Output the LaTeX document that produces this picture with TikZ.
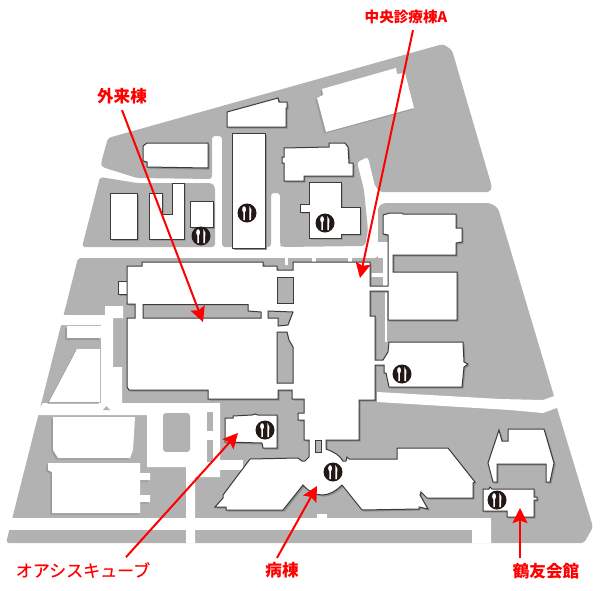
\documentclass[tikz,border=0pt]{standalone}
\usepackage{fontspec}
\usetikzlibrary{arrows.meta}
\newfontfamily\cjkfont{Noto Sans CJK JP}
\newfontfamily\cjkmid[FakeBold=0.35]{Noto Sans CJK JP}
\definecolor{groundc}{HTML}{B2B2B2}
\definecolor{shadeO}{HTML}{8E8E8E}
\definecolor{shadeW}{HTML}{9A9A9A}
\definecolor{inkc}{HTML}{3E3A39}
\definecolor{iconc}{HTML}{231815}
\definecolor{redc}{HTML}{FF0000}
\tikzset{
  ground/.style={fill=groundc,rounded corners=3pt},
  road/.style={fill=white},
  bldg/.style={fill=white,draw=inkc,line width=1pt},
  hole/.style={fill=groundc,draw=inkc,line width=1pt},
  lbl/.style={text=redc,font=\cjkfont\bfseries\fontsize{16.6}{17}\selectfont,inner sep=0pt},
  lblA/.style={text=redc,font=\cjkfont\bfseries\fontsize{14.6}{16}\selectfont,inner sep=0pt},
  lblK/.style={text=redc,font=\cjkmid\fontsize{17}{18}\selectfont,inner sep=0pt},
  pointer/.style={draw=redc,line width=2pt,-{Stealth[length=15pt,width=15pt,inset=2.5pt]}}
}
\newcommand\obld[1]{\fill[shadeO,shift={(1.6,1.6)}] #1 -- cycle; \path[bldg] #1 -- cycle;}
\newcommand\wbld[1]{\fill[shadeW,shift={(-1.6,1.6)}] #1 -- cycle; \fill[white] #1 -- cycle;}
\newcommand\mealicon[2]{\begin{scope}[shift={(#1,#2)}]
  \fill[iconc] (0,0) circle (9.5);
  \fill[white] (-2.9,-3.6) ellipse [x radius=1.9,y radius=3.2];
  \fill[white] (-3.6,-2) -- (-2.2,-2) -- (-2.1,7.2) -- (-3.7,7.2) -- cycle;
  \fill[white] (2.4,-7) .. controls (4.6,-5) and (5,-1.5) .. (4.2,0.5) -- (3.9,7.2) -- (2.4,7.2) -- cycle;
\end{scope}}
\begin{document}
\begin{tikzpicture}[x=1pt,y=-1pt]
\useasboundingbox (0,0) rectangle (600,590);
% ---- ground
\path[ground] (108,138) -- (443,44) -- (452,50) -- (492,187) -- (490,192) -- (380,192) -- (375,186) -- (368,157) -- (357,162) -- (364,190) -- (368,230) -- (365,246) -- (282,247) -- (280,245) -- (280,193) -- (271,193) -- (271,247) -- (222,247) -- (222,136) -- (212,136) -- (212,179) -- (137,178) -- (102,167) -- (101,163) -- cycle;
\path[ground] (100,177) -- (137,183) -- (212,183) -- (215,187) -- (215,247) -- (82,247) -- cycle;
\path[ground] (78,258) -- (378,258) -- (378,207) -- (383,203) -- (490,203) -- (498,208) -- (554,396) -- (557,408) -- (593,527) -- (584,543) -- (6,543) -- cycle;
% ---- roads
\path[road] (377,392) -- (500,399) -- (543,400) -- (560,394) -- (562,406) -- (543,413) -- (510,410) -- (377,402) -- cycle;
\fill[road] (378,242) rectangle (388,258);
\fill[road] (383,258) rectangle (388,290);
\fill[road] (370,273) rectangle (388,277);
\fill[road] (385,292) rectangle (387,342);
\fill[road] (285,258) rectangle (288,265);
\fill[road] (312,258) rectangle (316,262);
\fill[road] (348,258) rectangle (352,262);
\path[road] (60,315) -- (105,315) -- (105,306) -- (123,306) -- (123,318) -- (113,318) -- (113,367) -- (122,367) -- (122,403) -- (220,403) -- (220,477) -- (195,477) -- (195,543) -- (186,543) -- (186,467) -- (155,467) -- (147,467) -- (147,415) -- (35,415) -- (43,403) -- (101,403) -- (101,325) -- (60,325) -- cycle;
\fill[road] (220,460) rectangle (243,470);
\fill[road] (0,518) rectangle (491,530);
\fill[road] (317,514) rectangle (327,530);
\path[road] (472,518) -- (487,518) -- (491,523) -- (491,543) -- (472,543) -- cycle;
\fill[groundc,rounded corners=3pt] (163,413) rectangle (190,452);
\fill[road] (155,452) rectangle (186,467);
\fill[groundc] (207,412) rectangle (213,431);
\fill[groundc] (207,440) rectangle (213,462);
\fill[groundc] (103,410) -- (110,410) -- (106.5,406) -- cycle;
% ---- plain white blocks
\wbld{(67,326) -- (101,326) -- (101,338) -- (67,338)}
\wbld{(77,349) -- (100,349) -- (100,402) -- (49,402)}
\wbld{(53,417) -- (135,417) -- (133,450) -- (130,458) -- (58,458) -- (53,450)}
\wbld{(48,463) -- (140,463) -- (140,473) -- (150,473) -- (150,480) -- (140,480) -- (140,495) -- (150,495) -- (150,502) -- (140,502) -- (140,513) -- (52,513) -- (52,472) -- (48,470)}
\wbld{(322,89) -- (396,68) -- (397,74) -- (405,73) -- (414,108) -- (326,132) -- (317,98) -- (323,95)}
% ---- outlined buildings, north
\obld{(227,112) -- (278,98) -- (279,102) -- (287,102) -- (287,108) -- (286,108) -- (286,127) -- (227,127)}
\obld{(143,146) -- (147,143) -- (208,143) -- (208,168) -- (147,167) -- (147,162) -- (143,161)}
\obld{(232,133) -- (265,133) -- (265,248) -- (232,248)}
\obld{(110,193) -- (137,193) -- (137,239) -- (110,239)}
\obld{(149,193) -- (162,193) -- (162,214) -- (172,214) -- (172,183) -- (184,183) -- (184,239) -- (149,239)}
\obld{(190,201) -- (213,201) -- (213,227) -- (190,227)}
\obld{(284,148) -- (329,147) -- (329,143) -- (345,143) -- (348,147) -- (349,163) -- (353,163) -- (353,176) -- (304,176) -- (304,181) -- (284,181) -- (284,163) -- (282,163) -- (282,157) -- (284,157)}
\obld{(309,182) -- (341,182) -- (341,207) -- (360,207) -- (360,234) -- (341,234) -- (341,238) -- (309,238) -- (309,212) -- (300,212) -- (300,204) -- (309,204)}
% ---- main hospital complex
\obld{(118,281) -- (127,281) -- (127,294) -- (118,294)}
\obld{(127,266) -- (142,266) -- (142,262) -- (263,262) -- (263,266) -- (277,266) -- (277,270) -- (293,270) -- (293,262) -- (370,262) -- (370,286) -- (388,286) -- (388,235) -- (383,234) -- (383,215) -- (390,213) -- (402,213) -- (403,214) -- (456,214) -- (456,228) -- (462,228) -- (462,242) -- (456,243) -- (456,255) -- (393,255) -- (393,272) -- (457,272) -- (457,320) -- (388,320) -- (388,291) -- (370,291) -- (370,316) -- (375,316) -- (375,360) -- (383,360) -- (388,352) -- (389,342) -- (463,342) -- (464,362) -- (468,364) -- (464,367) -- (462,387) -- (389,387) -- (386,373) -- (384,373) -- (384,365) -- (375,365) -- (375,400) -- (359,400) -- (359,440) -- (326,440) -- (326,449) .. controls (331,451) and (336,453) .. (340,457) -- (343,461) -- (346,461) -- (347,457) -- (349,459) -- (397,459) -- (397,448) -- (448,448) -- (475,482) -- (473,483) -- (473,498) -- (427,498) -- (421,492) -- (420,495) -- (428,509) -- (419,507) -- (419,509) -- (362,510) -- (342,485) .. controls (336,491) and (329,495) .. (322,495) .. controls (315,495) and (308,491) .. (303,485) -- (283,510) -- (226,510) -- (226,507) -- (215,507) -- (223,498) -- (223,495) -- (247,463) -- (250,459) -- (298,458) -- (302,461) -- (305,461) -- (309,457) -- (309,440) -- (304,440) -- (304,420) -- (298,420) -- (298,413) -- (304,413) -- (304,399) -- (292,399) -- (292,390) -- (278,390) -- (278,399) -- (208,399) -- (208,390) -- (129,390) -- (127,387) -- (127,318) -- (135,318) -- (135,304) -- (127,304)}
% ---- courtyards
\path[hole] (143,304.5) -- (248,304.5) -- (248,311) -- (261,312) -- (261,318) -- (143,318) -- cycle;
\path[hole] (277,277) -- (293,277) -- (293,303) -- (277,303) -- cycle;
\path[hole] (268,311) -- (293,312) -- (288,325) -- (278,326) -- (278,318) -- (268,318) -- cycle;
\path[hole] (277,332) -- (287,332) -- (289,340) -- (293,347) -- (293,383) -- (277,383) -- cycle;
\path[hole] (315,440) rectangle (321,452);
% ---- oasis, east block
\obld{(225,418) -- (233,418) -- (233,416) -- (252,415) -- (255,414) -- (258,415) -- (277,415) -- (277,448) -- (263,448) -- (262,443) -- (225,442)}
\obld{(499,430) -- (502,441) -- (508,441) -- (508,429) -- (544,429) -- (554,463) -- (550,482) -- (546,482) -- (546,464) -- (497,464) -- (497,482) -- (493,482) -- (488,463)}
\obld{(483,489) -- (489,489) -- (490,487) -- (492,489) -- (534,489) -- (534,497) -- (537,497) -- (537,500) -- (534,500) -- (534,517) -- (507,517) -- (507,511) -- (483,511)}
% ---- restaurant marks
\mealicon{247}{213}
\mealicon{325}{223}
\mealicon{201}{236}
\mealicon{402}{374}
\mealicon{265}{430}
\mealicon{333}{472}
\mealicon{497}{500}
% ---- labels and pointers
\node[lblA] (central) at (406,17) {中央診療棟A};
\node[lbl] (outpatient) at (122,96) {外来棟};
\node[lblK] (oasis) at (83,570) {オアシスキューブ};
\node[lbl] (ward) at (282,570) {病棟};
\node[lbl] (tsuruyu) at (546,571) {鶴友会館};
\coordinate (tipcentral) at (360,278);
\coordinate (tipoutpatient) at (203,322);
\coordinate (tipoasis) at (238,433);
\coordinate (tipward) at (317,486);
\coordinate (tiptsuruyu) at (520,508);
\draw[pointer] ([shift={(7,6)}]central.south) -- (tipcentral);
\draw[pointer] ([shift={(0,6)}]outpatient.south) -- (tipoutpatient);
\draw[pointer] ([shift={(43,-5)}]oasis.north) -- (tipoasis);
\draw[pointer] ([shift={(-5,-4)}]ward.north) -- (tipward);
\draw[pointer] ([shift={(-26,-5)}]tsuruyu.north) -- (tiptsuruyu);
\end{tikzpicture}
\end{document}
